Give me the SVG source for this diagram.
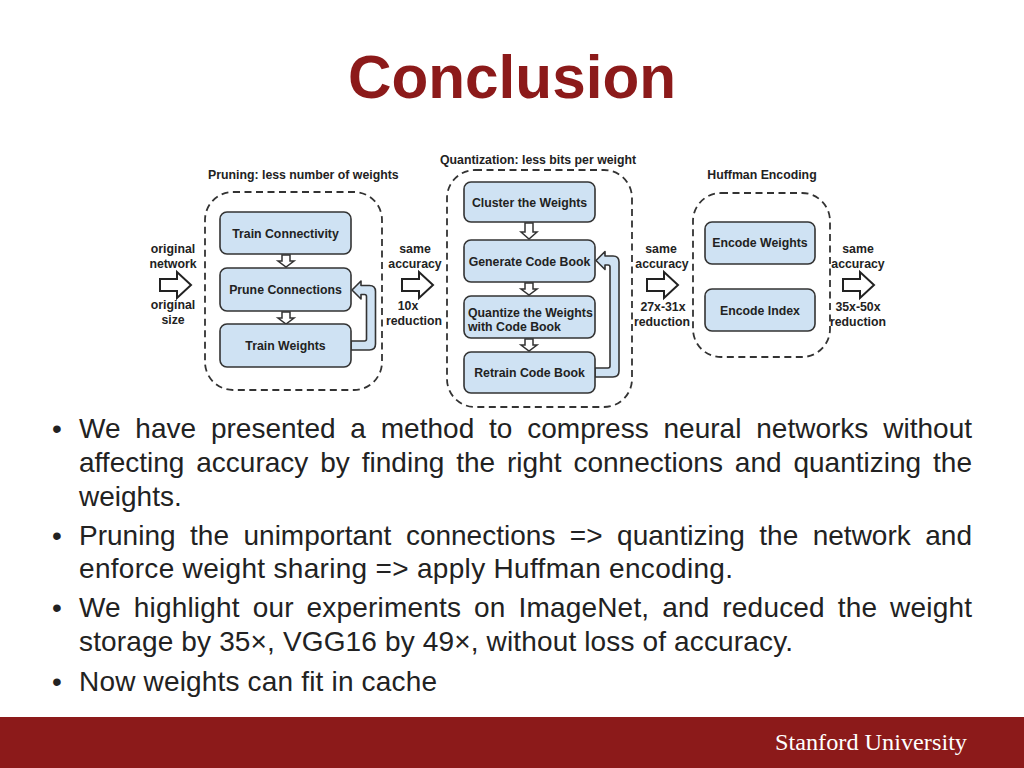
<svg xmlns="http://www.w3.org/2000/svg" width="1024" height="768" viewBox="0 0 1024 768">
<style>
.title{font-family:"Liberation Sans",Arial,sans-serif;font-weight:bold;font-size:62px;fill:#8c1a1a}
.lbl{font-family:"Liberation Sans",Arial,sans-serif;font-weight:bold;font-size:12.3px;fill:#222}
.bt{font-family:"Liberation Sans",Arial,sans-serif;font-size:28px;fill:#222}
.box{fill:#cfe2f3;stroke:#333;stroke-width:1.6}
.dash{fill:none;stroke:#333;stroke-width:1.8;stroke-dasharray:7 4.5}
.harrow{fill:#fff;stroke:#222;stroke-width:2;stroke-linejoin:miter}
.sarrow{fill:#fff;stroke:#333;stroke-width:1.5}
.loop{fill:#cfe2f3;stroke:#333;stroke-width:1.6;stroke-linejoin:round}
.foot{font-family:"Liberation Serif","Times New Roman",serif;font-size:23px;fill:#fff}
</style>
<rect x="0" y="0" width="1024" height="768" fill="#fff"/>
<text class="title" x="512" y="98" text-anchor="middle" textLength="328" lengthAdjust="spacingAndGlyphs">Conclusion</text>

<g id="stage-pruning">
<text class="lbl" x="208" y="179">Pruning: less number of weights</text>
<rect class="dash" x="205" y="192" width="177" height="198" rx="28"/>
</g>
<g id="stage-quantization">
<text class="lbl" x="440" y="164">Quantization: less bits per weight</text>
<rect class="dash" x="447" y="170" width="185" height="237" rx="28"/>
</g>
<g id="stage-huffman">
<text class="lbl" x="762" y="179" text-anchor="middle">Huffman Encoding</text>
<rect class="dash" x="693" y="193" width="137" height="164" rx="28"/>
</g>

<g id="connectors">
<polygon class="harrow" points="160,279 177,279 177,272 191,285 177,298 177,291 160,291"/>
<polygon class="harrow" points="402,279 419,279 419,272 433,285 419,298 419,291 402,291"/>
<polygon class="harrow" points="647,279 664,279 664,272 678,285 664,298 664,291 647,291"/>
<polygon class="harrow" points="843,279 860,279 860,272 874,285 860,298 860,291 843,291"/>
<polygon class="sarrow" points="282,255 290,255 290,261 294,261 286,267 278,261 282,261"/>
<polygon class="sarrow" points="282,312 290,312 290,318 294,318 286,324 278,318 282,318"/>
<polygon class="sarrow" points="525,223 533,223 533,232 537,232 529,239 521,232 525,232"/>
<polygon class="sarrow" points="525,283 533,283 533,289 537,289 529,295 521,289 525,289"/>
<polygon class="sarrow" points="525,339 533,339 533,345 537,345 529,351 521,345 525,345"/>
<path class="loop" d="M351,350 H369.5 Q375.5,350 375.5,344 V291.5 Q375.5,285.5 369.5,285.5 H361 V281 L352,290 L361,299 V294.5 H364.5 Q366.5,294.5 366.5,296.5 V339 Q366.5,341 364.5,341 H351 Z"/>
<path class="loop" d="M595,377 H613 Q619,377 619,371 V262 Q619,256 613,256 H605 V251.5 L596,260.5 L605,269.5 V265 H608 Q610,265 610,267 V366 Q610,368 608,368 H595 Z"/>
</g>

<g id="io-labels">
<text class="lbl" text-anchor="middle" x="173" y="253">original</text>
<text class="lbl" text-anchor="middle" x="173" y="268">network</text>
<text class="lbl" text-anchor="middle" x="173" y="309">original</text>
<text class="lbl" text-anchor="middle" x="173" y="324">size</text>
<text class="lbl" text-anchor="middle" x="415" y="253">same</text>
<text class="lbl" text-anchor="middle" x="415" y="268">accuracy</text>
<text class="lbl" text-anchor="middle" x="408" y="310">10x</text>
<text class="lbl" text-anchor="middle" x="414" y="325">reduction</text>
<text class="lbl" text-anchor="middle" x="661" y="253">same</text>
<text class="lbl" text-anchor="middle" x="662" y="268">accuracy</text>
<text class="lbl" text-anchor="middle" x="663" y="311">27x-31x</text>
<text class="lbl" text-anchor="middle" x="662" y="326">reduction</text>
<text class="lbl" text-anchor="middle" x="858" y="253">same</text>
<text class="lbl" text-anchor="middle" x="858" y="268">accuracy</text>
<text class="lbl" text-anchor="middle" x="858" y="311">35x-50x</text>
<text class="lbl" text-anchor="middle" x="858" y="326">reduction</text>
</g>

<g id="node-train-connectivity"><rect class="box" x="220" y="212" width="131" height="42" rx="7"/><text class="lbl" x="285.5" y="237.5" text-anchor="middle">Train Connectivity</text></g>
<g id="node-prune-connections"><rect class="box" x="220" y="268" width="131" height="43" rx="7"/><text class="lbl" x="285.5" y="293.5" text-anchor="middle">Prune Connections</text></g>
<g id="node-train-weights"><rect class="box" x="220" y="324" width="131" height="43" rx="7"/><text class="lbl" x="285.5" y="350" text-anchor="middle">Train Weights</text></g>

<g id="node-cluster"><rect class="box" x="464" y="182" width="131" height="40" rx="7"/><text class="lbl" x="529.5" y="207" text-anchor="middle">Cluster the Weights</text></g>
<g id="node-generate"><rect class="box" x="464" y="240" width="131" height="42" rx="7"/><text class="lbl" x="529.5" y="265.5" text-anchor="middle">Generate Code Book</text></g>
<g id="node-quantize"><rect class="box" x="464" y="296" width="131" height="42" rx="7"/><text class="lbl" x="468" y="317">Quantize the Weights</text><text class="lbl" x="468" y="331">with Code Book</text></g>
<g id="node-retrain"><rect class="box" x="464" y="352" width="131" height="41" rx="7"/><text class="lbl" x="529.5" y="377" text-anchor="middle">Retrain Code Book</text></g>

<g id="node-encode-weights"><rect class="box" x="705" y="222" width="110" height="42" rx="7"/><text class="lbl" x="760" y="247" text-anchor="middle">Encode Weights</text></g>
<g id="node-encode-index"><rect class="box" x="705" y="289" width="110" height="42" rx="7"/><text class="lbl" x="760" y="314.5" text-anchor="middle">Encode Index</text></g>

<g id="bullets">
<text class="bt" x="57" y="438" text-anchor="middle">•</text>
<text class="bt" x="79" y="438" word-spacing="7" textLength="893" lengthAdjust="spacing">We have presented a method to compress neural networks without</text>
<text class="bt" x="79" y="472" word-spacing="4.1" textLength="893" lengthAdjust="spacing">affecting accuracy by finding the right connections and quantizing the</text>
<text class="bt" x="79" y="506">weights.</text>
<text class="bt" x="57" y="545" text-anchor="middle">•</text>
<text class="bt" x="79" y="545" word-spacing="6.7" textLength="893" lengthAdjust="spacing">Pruning the unimportant connections =&gt; quantizing the network and</text>
<text class="bt" x="79" y="578" textLength="654" lengthAdjust="spacing">enforce weight sharing =&gt; apply Huffman encoding.</text>
<text class="bt" x="57" y="617" text-anchor="middle">•</text>
<text class="bt" x="79" y="617" word-spacing="4.9" textLength="893" lengthAdjust="spacing">We highlight our experiments on ImageNet, and reduced the weight</text>
<text class="bt" x="79" y="651" textLength="714" lengthAdjust="spacing">storage by 35×, VGG16 by 49×, without loss of accuracy.</text>
<text class="bt" x="57" y="691" text-anchor="middle">•</text>
<text class="bt" x="79" y="691" textLength="358" lengthAdjust="spacing">Now weights can fit in cache</text>
</g>

<g id="footer">
<rect x="0" y="717" width="1024" height="51" fill="#8c1a1a"/>
<text class="foot" x="775" y="750" textLength="192" lengthAdjust="spacingAndGlyphs">Stanford University</text>
</g>
</svg>
